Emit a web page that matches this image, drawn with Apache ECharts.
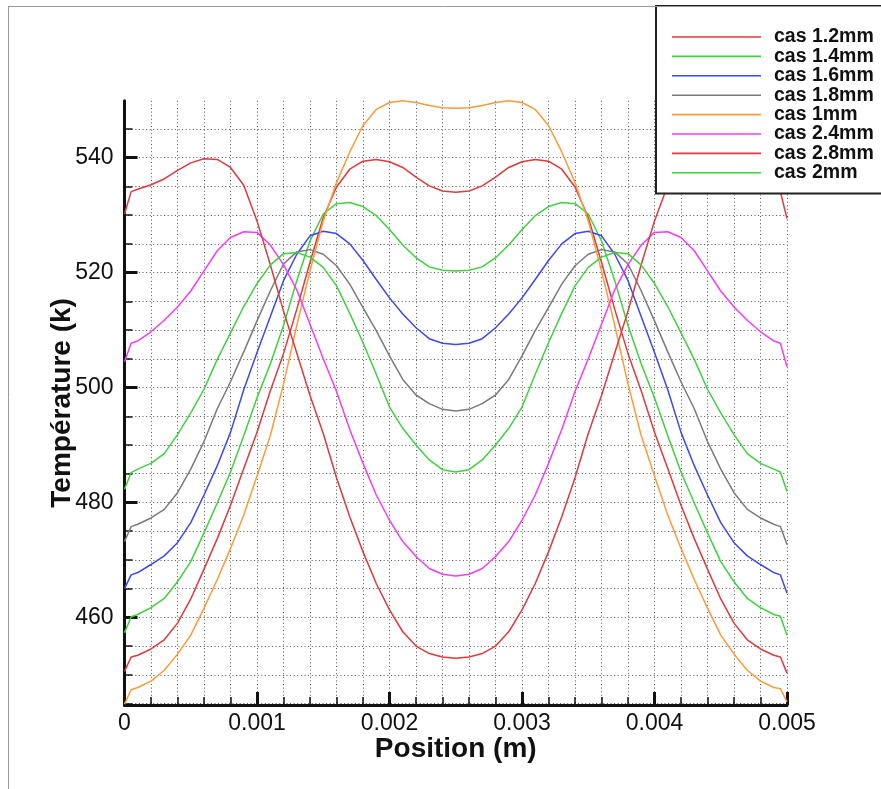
<!DOCTYPE html>
<html>
<head>
<meta charset="utf-8">
<script src="https://cdn.jsdelivr.net/npm/echarts@6/dist/echarts.min.js"></script>
<style>
  html, body { margin: 0; padding: 0; background: #fff; }
  #chart { width: 881px; height: 789px; }
</style>
</head>
<body>
<div id="chart"></div>
<script>
// Positions along the channel (m)
const positions = [
  0, 0.00005, 0.0001, 0.0002, 0.0003, 0.0004, 0.0005, 0.0006, 0.0007, 0.0008, 0.0009,
  0.0010, 0.0011, 0.0012, 0.0013, 0.0014, 0.0015, 0.0016, 0.0017, 0.0018, 0.0019,
  0.0020, 0.0021, 0.0022, 0.0023, 0.0024, 0.0025, 0.0026, 0.0027, 0.0028, 0.0029,
  0.0030, 0.0031, 0.0032, 0.0033, 0.0034, 0.0035, 0.0036, 0.0037, 0.0038, 0.0039,
  0.0040, 0.0041, 0.0042, 0.0043, 0.0044, 0.0045, 0.0046, 0.0047, 0.0048, 0.0049,
  0.00495, 0.0050
];

// Temperature profiles (K), one per case
const cas12 = [
  450.6, 453.1, 453.4, 454.5, 456.1, 459.0, 463.2, 468.4, 473.7, 479.5, 485.9,
  492.2, 499.4, 505.9, 513.6, 521.8, 529.6, 534.9, 538.0, 539.4, 539.7,
  539.3, 538.3, 536.6, 535.1, 534.2, 534.0, 534.2, 535.1, 536.6, 538.3,
  539.3, 539.7, 539.4, 538.0, 534.9, 529.6, 521.8, 513.6, 505.9, 499.4,
  492.2, 485.9, 479.5, 473.7, 468.4, 463.2, 459.0, 456.1, 454.5, 453.4,
  453.1, 450.3
];
const cas14 = [
  457.3, 460.1, 460.5, 461.7, 463.3, 466.2, 469.7, 474.7, 479.9, 485.3, 491.6,
  498.2, 504.1, 510.8, 518.6, 525.5, 530.2, 532.0, 532.2, 531.5, 529.9,
  527.5, 524.8, 522.6, 521.0, 520.4, 520.3, 520.4, 521.0, 522.6, 524.8,
  527.5, 529.9, 531.5, 532.2, 532.0, 530.2, 525.5, 518.6, 510.8, 504.1,
  498.2, 491.6, 485.3, 479.9, 474.7, 469.7, 466.2, 463.3, 461.7, 460.5,
  460.2, 456.9
];
const cas16 = [
  465.0, 467.4, 467.8, 469.2, 470.7, 473.0, 476.5, 481.3, 486.4, 492.2, 499.6,
  506.1, 512.3, 518.6, 523.2, 526.4, 527.2, 526.8, 525.0, 522.1, 518.8,
  515.6, 512.8, 510.4, 508.5, 507.7, 507.5, 507.7, 508.5, 510.4, 512.8,
  515.6, 518.8, 522.1, 525.0, 526.8, 527.2, 526.4, 523.2, 518.6, 512.3,
  506.1, 499.6, 492.2, 486.4, 481.3, 476.5, 473.0, 470.7, 469.2, 467.8,
  467.4, 464.2
];
const cas18 = [
  473.2, 475.8, 476.2, 477.3, 478.8, 481.7, 485.8, 490.6, 496.3, 501.0, 506.2,
  511.6, 516.8, 521.5, 523.6, 524.0, 523.2, 521.2, 518.0, 513.9, 509.9,
  505.5, 501.4, 498.7, 497.2, 496.2, 495.9, 496.2, 497.2, 498.7, 501.4,
  505.5, 509.9, 513.9, 518.0, 521.2, 523.2, 524.0, 523.6, 521.5, 516.8,
  511.6, 506.2, 501.0, 496.3, 490.6, 485.8, 481.7, 478.8, 477.3, 476.2,
  475.8, 472.7
];
const cas10 = [
  444.9, 447.4, 447.8, 448.9, 450.8, 453.6, 456.9, 461.6, 466.6, 472.0, 477.8,
  484.6, 491.6, 500.6, 510.8, 520.3, 529.0, 535.7, 541.0, 545.6, 548.4,
  549.6, 549.9, 549.6, 549.1, 548.7, 548.6, 548.7, 549.1, 549.6, 549.9,
  549.6, 548.4, 545.6, 541.0, 535.7, 529.0, 520.3, 510.8, 500.6, 491.6,
  484.6, 477.8, 472.0, 466.6, 461.6, 456.9, 453.6, 450.8, 448.9, 447.8,
  447.6, 445.3
];
const cas24 = [
  504.5, 507.7, 508.1, 509.7, 511.7, 514.0, 516.8, 520.3, 523.8, 526.1, 527.1,
  527.0, 524.8, 521.4, 517.0, 511.0, 505.0, 499.3, 492.7, 486.8, 481.3,
  476.9, 473.2, 470.6, 468.5, 467.5, 467.2, 467.5, 468.5, 470.6, 473.2,
  476.9, 481.3, 486.8, 492.7, 499.3, 505.0, 511.0, 517.0, 521.4, 524.8,
  527.0, 527.1, 526.1, 523.8, 520.3, 516.8, 514.0, 511.7, 509.7, 508.1,
  507.7, 503.6
];
const cas28 = [
  530.2, 534.1, 534.5, 535.3, 536.3, 537.8, 539.1, 539.8, 539.7, 538.3, 535.2,
  529.0, 521.4, 513.3, 506.0, 498.6, 492.0, 484.3, 477.5, 471.4, 465.9,
  461.3, 457.5, 455.0, 453.7, 453.1, 452.9, 453.1, 453.7, 455.0, 457.5,
  461.3, 465.9, 471.4, 477.5, 484.3, 492.0, 498.6, 506.0, 513.3, 521.4,
  529.0, 535.2, 538.3, 539.7, 539.8, 539.1, 537.8, 536.3, 535.3, 534.5,
  534.1, 529.4
];
const cas20 = [
  482.3, 485.2, 485.8, 486.8, 488.5, 491.8, 495.6, 499.7, 504.9, 509.5, 514.1,
  518.1, 521.3, 523.3, 523.5, 522.7, 520.9, 517.7, 512.9, 507.8, 502.3,
  496.6, 492.9, 490.0, 487.4, 485.7, 485.3, 485.7, 487.4, 490.0, 492.9,
  496.6, 502.3, 507.8, 512.9, 517.7, 520.9, 522.7, 523.5, 523.3, 521.3,
  518.1, 514.1, 509.5, 504.9, 499.7, 495.6, 491.8, 488.5, 486.8, 485.8,
  485.3, 481.9
];

const caseNames = ['cas 1.2mm', 'cas 1.4mm', 'cas 1.6mm', 'cas 1.8mm', 'cas 1mm', 'cas 2.4mm', 'cas 2.8mm', 'cas 2mm'];
const caseData = [cas12, cas14, cas16, cas18, cas10, cas24, cas28, cas20];
const caseColors = ['#e0393b', '#3fd13f', '#3a48f5', '#7a7a7a', '#ff9a3a', '#f53cf5', '#e0393b', '#3fd13f'];

// Axis ticks
const yMajor = [460, 480, 500, 520, 540];
const yMinor = [445, 450, 455, 460, 465, 470, 475, 480, 485, 490, 495, 500, 505, 510, 515, 520, 525, 530, 535, 540, 545];
const yRange = [444.75, 549.9];

const FONT = '"Liberation Sans", Arial, Helvetica, sans-serif';
const dotted = { color: '#555', width: 1, type: [1, 2.6] };

const chart = echarts.init(document.getElementById('chart'), null, { renderer: 'canvas' });

const series = caseNames.map((name, i) => ({
  name: name,
  type: 'line',
  symbol: 'none',
  showSymbol: false,
  smooth: false,
  animation: false,
  clip: true,
  z: 3,
  lineStyle: { color: caseColors[i], width: 1.5 },
  itemStyle: { color: caseColors[i] },
  data: positions.map((x, k) => [x, caseData[i][k]])
}));

chart.setOption({
  backgroundColor: '#fff',
  animation: false,
  grid: { left: 124.5, top: 100.8, width: 662.5, height: 604.2, containLabel: false },
  legend: {
    data: caseNames,
    orient: 'vertical',
    left: 672,
    top: 27,
    icon: 'rect',
    itemWidth: 89,
    itemHeight: 1.6,
    itemGap: -0.6,
    padding: 0,
    z: 120,
    textStyle: {
      fontFamily: FONT, fontWeight: 'bold', fontSize: 19.5, color: '#111',
      lineHeight: 18, padding: [0, 0, 0, 8]
    },
    selectedMode: false
  },
  xAxis: {
    type: 'value',
    min: 0,
    max: 0.005,
    interval: 0.001,
    name: 'Position (m)',
    nameLocation: 'middle',
    nameGap: 30,
    nameMoveOverlap: false,
    nameTextStyle: { fontFamily: FONT, fontWeight: 'bold', fontSize: 28, color: '#111', verticalAlign: 'top' },
    axisLine: { show: true, onZero: false, lineStyle: { color: '#111', width: 3 } },
    axisTick: { show: true, inside: true, length: 13, lineStyle: { color: '#111', width: 3 } },
    minorTick: { show: true, splitNumber: 5, length: 8, lineStyle: { color: '#111', width: 1.5 } },
    splitLine: { show: true, lineStyle: dotted },
    minorSplitLine: { show: true, lineStyle: dotted },
    axisLabel: {
      fontFamily: FONT, fontSize: 23, color: '#111', margin: 7,
      formatter: v => (v === 0 ? '0' : v.toFixed(3))
    }
  },
  yAxis: [
    {
      type: 'value',
      min: yRange[0],
      max: yRange[1],
      axisLine: { show: true, onZero: false, lineStyle: { color: '#111', width: 3 } },
      axisTick: { show: true, inside: true, length: 8, customValues: yMinor, lineStyle: { color: '#111', width: 1.5 } },
      splitLine: { show: true, lineStyle: dotted },
      axisLabel: { show: false }
    },
    {
      type: 'value',
      min: yRange[0],
      max: yRange[1],
      position: 'left',
      name: 'Température (k)',
      nameLocation: 'middle',
      nameGap: 48,
      nameMoveOverlap: false,
      nameTextStyle: { fontFamily: FONT, fontWeight: 'bold', fontSize: 28, color: '#111' },
      axisLine: { show: false },
      axisTick: { show: true, inside: true, length: 13, customValues: yMajor, lineStyle: { color: '#111', width: 3 } },
      splitLine: { show: false },
      axisLabel: { show: true, customValues: yMajor, fontFamily: FONT, fontSize: 23, color: '#111', margin: 11 }
    }
  ],
  graphic: [
    {
      type: 'rect', z: 100,
      shape: { x: 656, y: 6, width: 240, height: 187.5 },
      style: { fill: '#fff', stroke: '#222', lineWidth: 2 }
    },
    {
      type: 'line', z: 101,
      shape: { x1: 8, y1: 6.5, x2: 881, y2: 6.5 },
      style: { stroke: '#9a9a9a', lineWidth: 1 }
    },
    {
      type: 'line', z: 101,
      shape: { x1: 8.5, y1: 6, x2: 8.5, y2: 789 },
      style: { stroke: '#9a9a9a', lineWidth: 1 }
    }
  ],
  series: series
});
</script>
</body>
</html>
